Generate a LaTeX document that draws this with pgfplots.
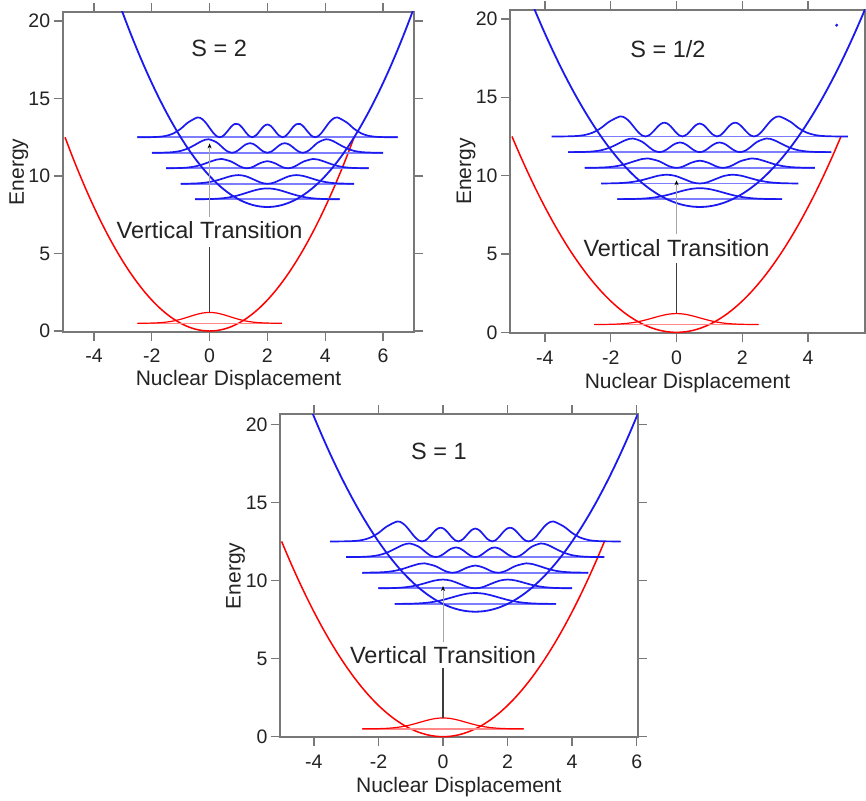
\documentclass[border=0pt]{standalone}
\usepackage{fontspec}
\setmainfont{Liberation Sans}
\usepackage{pgfplots}
\usepackage{pgfplotstable}
\pgfplotsset{compat=1.18}
\usetikzlibrary{arrows.meta}

\definecolor{fr}{RGB}{120,120,120}
\definecolor{txt}{RGB}{35,35,35}
\definecolor{bl}{RGB}{25,25,240}
\definecolor{blb}{RGB}{125,125,255}
\definecolor{rd}{RGB}{255,0,0}
\definecolor{rdb}{RGB}{255,135,135}
\definecolor{arlo}{RGB}{60,60,60}
\definecolor{arup}{RGB}{165,165,165}

% parabolas: u, upper state (8+u^2/2), ground state (u^2/2)
\pgfplotstableread{
u up lo
-5.25 21.781 13.781
-5.0 20.5 12.5
-4.75 19.281 11.281
-4.5 18.125 10.125
-4.25 17.031 9.031
-4.0 16 8
-3.75 15.031 7.031
-3.5 14.125 6.125
-3.25 13.281 5.281
-3.0 12.5 4.5
-2.75 11.781 3.781
-2.5 11.125 3.125
-2.25 10.531 2.531
-2.0 10 2
-1.75 9.531 1.531
-1.5 9.125 1.125
-1.25 8.781 0.781
-1.0 8.5 0.5
-0.75 8.281 0.281
-0.5 8.125 0.125
-0.25 8.031 0.031
0 8 0
0.25 8.031 0.031
0.5 8.125 0.125
0.75 8.281 0.281
1.0 8.5 0.5
1.25 8.781 0.781
1.5 9.125 1.125
1.75 9.531 1.531
2.0 10 2
2.25 10.531 2.531
2.5 11.125 3.125
2.75 11.781 3.781
3.0 12.5 4.5
3.25 13.281 5.281
3.5 14.125 6.125
3.75 15.031 7.031
4.0 16 8
4.25 17.031 9.031
4.5 18.125 10.125
4.75 19.281 11.281
5.0 20.5 12.5
5.25 21.781 13.781
}\parab

% v = 0 (upper at 8.5, ground at 0.5)
\pgfplotstableread{
u up lo bu bl
-2.5 8.501 0.501 8.5 0.5
-2.25 8.504 0.504 8.5 0.5
-2.0 8.513 0.513 8.5 0.5
-1.75 8.533 0.533 8.5 0.5
-1.5 8.574 0.574 8.5 0.5
-1.25 8.647 0.647 8.5 0.5
-1.0 8.758 0.758 8.5 0.5
-0.75 8.899 0.899 8.5 0.5
-0.5 9.045 1.045 8.5 0.5
-0.25 9.158 1.158 8.5 0.5
0 9.2 1.2 8.5 0.5
0.25 9.158 1.158 8.5 0.5
0.5 9.045 1.045 8.5 0.5
0.75 8.899 0.899 8.5 0.5
1.0 8.758 0.758 8.5 0.5
1.25 8.647 0.647 8.5 0.5
1.5 8.574 0.574 8.5 0.5
1.75 8.533 0.533 8.5 0.5
2.0 8.513 0.513 8.5 0.5
2.25 8.504 0.504 8.5 0.5
2.5 8.501 0.501 8.5 0.5
}\vzero

% v = 1
\pgfplotstableread{
u E b
-3.0 9.502 9.5
-2.75 9.506 9.5
-2.5 9.518 9.5
-2.25 9.549 9.5
-2.0 9.612 9.5
-1.75 9.718 9.5
-1.5 9.861 9.5
-1.25 9.999 9.5
-1.0 10.06 9.5
-0.75 9.988 9.5
-0.5 9.796 9.5
-0.25 9.589 9.5
-0.125 9.523 9.5
0 9.5 9.5
0.125 9.523 9.5
0.25 9.589 9.5
0.5 9.796 9.5
0.75 9.988 9.5
1.0 10.06 9.5
1.25 9.999 9.5
1.5 9.861 9.5
1.75 9.718 9.5
2.0 9.612 9.5
2.25 9.549 9.5
2.5 9.518 9.5
2.75 9.506 9.5
3.0 9.502 9.5
}\vone

% v = 2
\pgfplotstableread{
u E b
-3.5 10.501 10.5
-3.25 10.505 10.5
-3.0 10.516 10.5
-2.75 10.547 10.5
-2.5 10.617 10.5
-2.25 10.741 10.5
-2.0 10.910 10.5
-1.75 11.061 10.5
-1.5811 11.100 10.5
-1.25 10.932 10.5
-1.0 10.668 10.5
-0.875 10.560 10.5
-0.75 10.504 10.5
-0.7071 10.500 10.5
-0.625 10.515 10.5
-0.5 10.589 10.5
-0.25 10.829 10.5
0 10.957 10.5
0.25 10.829 10.5
0.5 10.589 10.5
0.625 10.515 10.5
0.7071 10.500 10.5
0.75 10.504 10.5
0.875 10.560 10.5
1.0 10.668 10.5
1.25 10.932 10.5
1.5811 11.100 10.5
1.75 11.061 10.5
2.0 10.910 10.5
2.25 10.741 10.5
2.5 10.617 10.5
2.75 10.547 10.5
3.0 10.516 10.5
3.25 10.505 10.5
3.5 10.501 10.5
}\vtwo

% v = 3
\pgfplotstableread{
u E b
-4.0 11.501 11.5
-3.75 11.503 11.5
-3.5 11.513 11.5
-3.25 11.543 11.5
-3.0 11.618 11.5
-2.75 11.774 11.5
-2.5 12.016 11.5
-2.25 12.270 11.5
-2.034 12.370 11.5
-1.75 12.162 11.5
-1.5 11.753 11.5
-1.375 11.583 11.5
-1.2247 11.500 11.5
-1.125 11.537 11.5
-1.0 11.674 11.5
-0.875 11.864 11.5
-0.75 12.034 11.5
-0.6021 12.118 11.5
-0.5 12.076 11.5
-0.375 11.928 11.5
-0.25 11.730 11.5
-0.125 11.564 11.5
0 11.5 11.5
0.125 11.564 11.5
0.25 11.730 11.5
0.375 11.928 11.5
0.5 12.076 11.5
0.6021 12.118 11.5
0.75 12.034 11.5
0.875 11.864 11.5
1.0 11.674 11.5
1.125 11.537 11.5
1.2247 11.500 11.5
1.375 11.583 11.5
1.5 11.753 11.5
1.75 12.162 11.5
2.034 12.370 11.5
2.25 12.270 11.5
2.5 12.016 11.5
2.75 11.774 11.5
3.0 11.618 11.5
3.25 11.543 11.5
3.5 11.513 11.5
3.75 11.503 11.5
4.0 11.501 11.5
}\vthree

% v = 4
\pgfplotstableread{
u E b
-4.5 12.500 12.5
-4.25 12.502 12.5
-4.0 12.507 12.5
-3.75 12.528 12.5
-3.5 12.591 12.5
-3.25 12.746 12.5
-3.0 13.042 12.5
-2.75 13.445 12.5
-2.4177 13.780 12.5
-2.25 13.661 12.5
-2.125 13.423 12.5
-2.0 13.105 12.5
-1.875 12.786 12.5
-1.75 12.561 12.5
-1.6507 12.500 12.5
-1.5625 12.548 12.5
-1.5 12.636 12.5
-1.375 12.901 12.5
-1.25 13.187 12.5
-1.125 13.363 12.5
-1.0 13.342 12.5
-0.875 13.129 12.5
-0.75 12.822 12.5
-0.625 12.572 12.5
-0.5246 12.500 12.5
-0.375 12.654 12.5
-0.25 12.941 12.5
-0.125 13.213 12.5
0 13.324 12.5
0.125 13.213 12.5
0.25 12.941 12.5
0.375 12.654 12.5
0.5246 12.500 12.5
0.625 12.572 12.5
0.75 12.822 12.5
0.875 13.129 12.5
1.0 13.342 12.5
1.125 13.363 12.5
1.25 13.187 12.5
1.375 12.901 12.5
1.5 12.636 12.5
1.5625 12.548 12.5
1.6507 12.500 12.5
1.75 12.561 12.5
1.875 12.786 12.5
2.0 13.105 12.5
2.125 13.423 12.5
2.25 13.661 12.5
2.4177 13.780 12.5
2.75 13.445 12.5
3.0 13.042 12.5
3.25 12.746 12.5
3.5 12.591 12.5
3.75 12.528 12.5
4.0 12.507 12.5
4.25 12.502 12.5
4.5 12.500 12.5
}\vfour

\pgfplotsset{
  panel/.style={
    scale only axis, anchor=south west,
    axis line style={fr, line width=1.7bp},
    every tick/.style={fr, line width=1.4bp},
    tick align=outside,
    major tick length=9bp,
    xtick={-4,-2,...,6}, ytick={0,5,...,20},
    minor tick num=0,
    tick label style={font=\fontsize{19.5bp}{22bp}\selectfont, text=txt},
    xticklabel style={yshift=-5bp},
    /pgf/number format/assume math mode=true,
    label style={font=\fontsize{21bp}{24bp}\selectfont, text=txt},
    xlabel={Nuclear Displacement}, ylabel={Energy},
    xlabel style={at={(axis description cs:0.5,-0.152)}, anchor=center},
  }
}

\newcommand\curves[1]{%
  \addplot[rd, line width=1.5bp, smooth, restrict x to domain=-5.01:5.01] table[x=u, y=lo] {\parab};
  \addplot[rdb, line width=1.4bp] table[x=u, y=bl] {\vzero};
  \addplot[rd, line width=1.2bp, smooth] table[x=u, y=lo] {\vzero};
  \addplot[blb, line width=1.8bp] table[x expr=\thisrow{u}+#1, y=bu] {\vzero};
  \addplot[blb, line width=1.8bp] table[x expr=\thisrow{u}+#1, y=b] {\vone};
  \addplot[blb, line width=1.8bp] table[x expr=\thisrow{u}+#1, y=b] {\vtwo};
  \addplot[blb, line width=1.8bp] table[x expr=\thisrow{u}+#1, y=b] {\vthree};
  \addplot[blb, line width=1.8bp] table[x expr=\thisrow{u}+#1, y=b] {\vfour};
  \addplot[bl, line width=1.7bp, smooth] table[x expr=\thisrow{u}+#1, y=up] {\vzero};
  \addplot[bl, line width=1.7bp, smooth] table[x expr=\thisrow{u}+#1, y=E] {\vone};
  \addplot[bl, line width=1.7bp, smooth] table[x expr=\thisrow{u}+#1, y=E] {\vtwo};
  \addplot[bl, line width=1.7bp, smooth] table[x expr=\thisrow{u}+#1, y=E] {\vthree};
  \addplot[bl, line width=1.7bp, smooth] table[x expr=\thisrow{u}+#1, y=E] {\vfour};
  \addplot[bl, line width=1.8bp, smooth] table[x expr=\thisrow{u}+#1, y=up] {\parab};
}

\begin{document}
\begin{tikzpicture}
\path[use as bounding box] (0,0) rectangle (866bp,801bp);

% ---------- S = 2 ----------
\begin{axis}[panel, at={(62.7bp,469.2bp)}, width=351.6bp, height=319.8bp,
  xmin=-5.08, xmax=7.08, ymin=-0.05, ymax=20.58,
  ylabel style={at={(axis description cs:-0.125,0.5)}, anchor=center}]
  \curves{2}
  \addplot[arlo, line width=1.2bp] coordinates {(0,1.22) (0,5.44)};
  \addplot[arup, line width=0.9bp, -{Stealth[length=5bp,width=4bp,black]}] coordinates {(0,7.37) (0,12.1)};
  \node[font=\fontsize{23.5bp}{28bp}\selectfont, text=txt] at (axis cs:0,6.5) {Vertical Transition};
  \node[font=\fontsize{23.5bp}{28bp}\selectfont, text=txt] at (axis cs:0.33,18.2) {S = 2};
\end{axis}

% ---------- S = 1/2 ----------
\begin{axis}[panel, at={(510bp,467.7bp)}, width=355bp, height=323.3bp,
  xmin=-5.06, xmax=5.73, ymin=-0.06, ymax=20.57,
  ylabel style={at={(axis description cs:-0.124,0.5)}, anchor=center},
  xlabel style={at={(axis description cs:0.5,-0.155)}}]
  \curves{0.707}
  \addplot[arlo, line width=1.2bp] coordinates {(0,1.22) (0,4.4)};
  \addplot[arup, line width=0.9bp, -{Stealth[length=5bp,width=4bp,black]}] coordinates {(0,6.3) (0,9.7)};
  \addplot[only marks, mark=*, mark size=1.3bp, bl] coordinates {(4.87,19.6)};
  \node[font=\fontsize{23.5bp}{28bp}\selectfont, text=txt] at (axis cs:0,5.38) {Vertical Transition};
  \node[font=\fontsize{23.5bp}{28bp}\selectfont, text=txt] at (axis cs:-0.26,18.1) {S = 1/2};
\end{axis}

% ---------- S = 1 ----------
\begin{axis}[panel, at={(280bp,63.7bp)}, width=357.7bp, height=323bp,
  xmin=-5.05, xmax=6.03, ymin=-0.04, ymax=20.64,
  ylabel style={at={(axis description cs:-0.124,0.5)}, anchor=center},
  xlabel style={at={(axis description cs:0.5,-0.155)}}]
  \curves{1}
  \addplot[arlo, line width=1.2bp] coordinates {(0,1.2) (0,4.38)};
  \addplot[arup, line width=0.9bp, -{Stealth[length=5bp,width=4bp,black]}] coordinates {(0,6.08) (0,9.65)};
  \node[font=\fontsize{23.5bp}{28bp}\selectfont, text=txt] at (axis cs:0,5.23) {Vertical Transition};
  \node[font=\fontsize{23.5bp}{28bp}\selectfont, text=txt] at (axis cs:-0.13,18.25) {S = 1};
\end{axis}
\end{tikzpicture}
\end{document}
